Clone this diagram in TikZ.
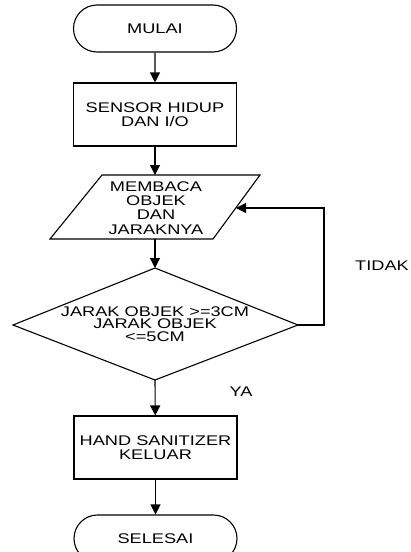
\documentclass[tikz,border=0pt]{standalone}
\usepackage{fontspec}
\setmainfont{Liberation Sans}[FakeStretch=1.3]
\usetikzlibrary{arrows.meta,shapes.misc}
\begin{document}
\begin{tikzpicture}[x=1pt,y=-1pt,
  line width=1.1pt,
  every node/.style={font=\fontsize{14}{14.3}\selectfont, align=center, inner sep=0pt},
  term/.style={draw, rounded rectangle, minimum width=163pt, minimum height=47pt},
  procbox/.style={draw, rectangle, minimum width=163pt, minimum height=63pt},
  flow/.style={-{Triangle[length=10pt,width=10pt]}}
]
\useasboundingbox (0,0) rectangle (411,552);

\node[term] (mulai) at (155,28.5) {MULAI};
\node[procbox] (sensor) at (155,114.5) {SENSOR HIDUP\\DAN I/O};

% parallelogram
\coordinate (pTL) at (102,175);
\coordinate (pTR) at (260,175);
\coordinate (pBR) at (213,239);
\coordinate (pBL) at (50,239);
\draw (pTL) -- (pTR) -- (pBR) -- (pBL) -- cycle;
\node (membaca) at (156,208) {MEMBACA\\OBJEK\\DAN\\JARAKNYA};
\coordinate (pTop) at (155,175);
\coordinate (pBot) at (155,239);
\coordinate (pRight) at (236,208);

% decision
\coordinate (dT) at (155,268);
\coordinate (dR) at (298,325);
\coordinate (dB) at (155,380);
\coordinate (dL) at (13,325);
\draw (dT) -- (dR) -- (dB) -- (dL) -- cycle;
\node[font=\fontsize{14}{12.6}\selectfont] (cek) at (155,324) {JARAK OBJEK >=3CM\\JARAK OBJEK\\<=5CM};

\node[procbox] (hand) at (155.5,447.5) {HAND SANITIZER\\KELUAR};
\node[term] (selesai) at (155.5,538.5) {SELESAI};

\node (tidak) at (382,266) {TIDAK};
\node (ya) at (241,392) {YA};

\draw[flow] (mulai) -- (sensor);
\draw[flow] (sensor) -- (pTop);
\draw[flow] (pBot) -- (dT);
\draw[flow] (dB) -- (hand);
\draw[flow] (hand) -- (selesai);
\coordinate (loopX) at (324,208);
\draw[flow] (dR) -| (loopX) -- (pRight);
\end{tikzpicture}
\end{document}
